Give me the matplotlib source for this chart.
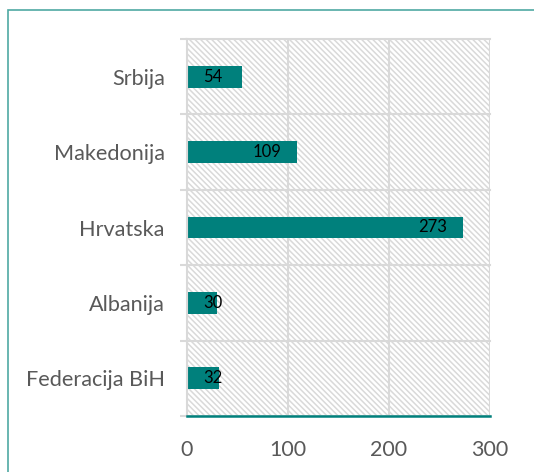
import matplotlib
matplotlib.use("Agg")
import matplotlib.pyplot as plt
from matplotlib.patches import Rectangle

plt.rcParams['font.family'] = ['Lato', 'DejaVu Sans']
plt.rcParams['hatch.color'] = '#dedede'
plt.rcParams['hatch.linewidth'] = 1.1

categories = ["Srbija", "Makedonija", "Hrvatska", "Albanija", "Federacija BiH"]
values = [54, 109, 273, 30, 32]
xticks = [0, 100, 200, 300]

teal = '#00807c'
grid = '#d9d9d9'
txt = '#595959'

fig = plt.figure(figsize=(5.34, 4.72), dpi=100)
fig.patch.set_facecolor('white')

# outer frame
fig.add_artist(Rectangle((8/534, -0.1), 1.2, 1 - 10/472 + 0.1, transform=fig.transFigure,
                         fill=False, edgecolor='#4fa9a3', linewidth=1.2))

ax = fig.add_axes([187/534, 1 - 416/472, 303/534, (416 - 39)/472])
n = len(categories)
ypos = list(range(n))
ax.set_xlim(0, 300)
ax.set_ylim(n - 0.5, -0.5)

# hatched background
ax.add_patch(Rectangle((0, 0), 1, 1, transform=ax.transAxes, facecolor='white',
                       edgecolor=grid, hatch='\\\\\\\\\\\\', linewidth=0, zorder=0))

for x in xticks[1:]:
    ax.axvline(x, color=grid, lw=1.5, zorder=1)
for b in range(n + 1):
    ax.axhline(b - 0.5, color=grid, lw=1.5, zorder=1, clip_on=False)

ax.barh(ypos, values, height=0.29, color=teal, zorder=2)

for y, v in zip(ypos, values):
    if v * 303 / 300 > 60:
        ax.annotate(str(v), (v, y), xytext=(-16, 0), textcoords='offset pixels',
                    ha='right', va='center', fontsize=12, color='black', zorder=3)
    else:
        ax.annotate(str(v), (0, y), xytext=(16, 0), textcoords='offset pixels',
                    ha='left', va='center', fontsize=12, color='black', zorder=3)

ax.set_yticks(ypos)
ax.set_yticklabels(categories)
ax.set_yticks([b - 0.5 for b in range(n + 1)], minor=True)
ax.tick_params(axis='y', which='major', length=0, pad=16, labelsize=15.6, labelcolor=txt)
ax.tick_params(axis='y', which='minor', length=5, color=grid, width=1.5)
ax.set_xticks(xticks)
ax.tick_params(axis='x', length=0, pad=17, labelsize=15.5, labelcolor=txt)

for s in ['top', 'right']:
    ax.spines[s].set_visible(False)
ax.spines['left'].set_color(grid)
ax.spines['left'].set_linewidth(1.5)
ax.spines['bottom'].set_color(teal)
ax.spines['bottom'].set_linewidth(1.8)
ax.spines['bottom'].set_zorder(4)

fig.savefig('out.png', dpi=100)
